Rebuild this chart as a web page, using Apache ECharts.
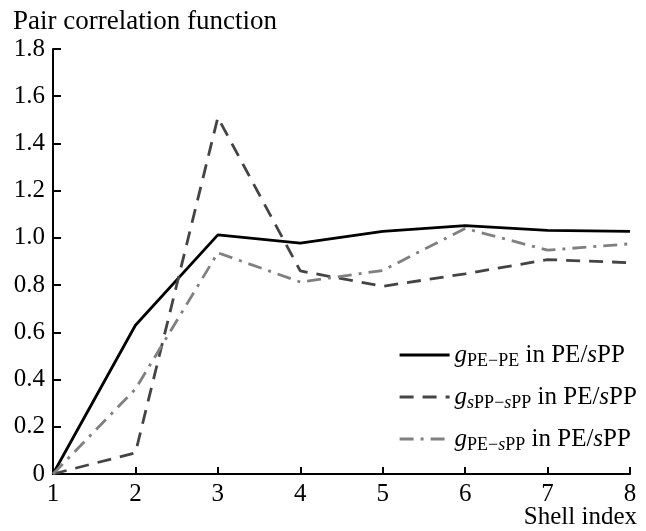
<!DOCTYPE html>
<html>
<head>
<meta charset="utf-8">
<script src="https://cdn.jsdelivr.net/npm/echarts@6/dist/echarts.min.js"></script>
<style>
html,body{margin:0;padding:0;background:#fff;}
#chart{width:646px;height:531px;}
</style>
</head>
<body>
<div id="chart"></div>
<script>
var shellIndex = [1, 2, 3, 4, 5, 6, 7, 8];
var gPEPE   = [0, 0.63, 1.013, 0.978, 1.028, 1.052, 1.032, 1.028];
var gSPPSPP = [0, 0.09, 1.51, 0.86, 0.795, 0.848, 0.908, 0.895];
var gPESPP  = [0, 0.36, 0.937, 0.813, 0.862, 1.04, 0.948, 0.975];
var yTicks = [0, 0.2, 0.4, 0.6, 0.8, 1.0, 1.2, 1.4, 1.6, 1.8];

var FONT = 'Liberation Serif';

function pairs(ys) { return shellIndex.map(function (x, i) { return [x, ys[i]]; }); }

var chart = echarts.init(document.getElementById('chart'), null, {renderer: 'canvas'});

var rich = {
  g: {fontFamily: FONT, fontStyle: 'italic', fontSize: 25, color: '#000', lineHeight: 30},
  sub: {fontFamily: FONT, fontSize: 18, color: '#000', lineHeight: 30, padding: [12, 0, 0, 0]},
  subi: {fontFamily: FONT, fontSize: 18, fontStyle: 'italic', color: '#000', lineHeight: 30, padding: [12, 0, 0, 0]},
  t: {fontFamily: FONT, fontSize: 25, color: '#000', lineHeight: 30},
  ti: {fontFamily: FONT, fontSize: 25, fontStyle: 'italic', color: '#000', lineHeight: 30}
};

var legendText = {
  'PE-PE': '{g|g}{sub|PE−PE}{t| in PE/}{ti|s}{t|PP}',
  'sPP-sPP': '{g|g}{subi|s}{sub|PP−}{subi|s}{sub|PP}{t| in PE/}{ti|s}{t|PP}',
  'PE-sPP': '{g|g}{sub|PE−}{subi|s}{sub|PP}{t| in PE/}{ti|s}{t|PP}'
};

var seriesNames = ['PE-PE', 'sPP-sPP', 'PE-sPP'];
var legendTops = [335, 377, 419];

chart.setOption({
  animation: false,
  backgroundColor: '#fff',
  grid: {left: 53, right: 16, top: 49, bottom: 57, containLabel: false},
  xAxis: {
    type: 'value', min: 1, max: 8, interval: 1,
    axisLine: {show: true, onZero: false, lineStyle: {color: '#000', width: 2}},
    axisTick: {show: true, inside: true, length: 7, lineStyle: {color: '#000', width: 2}},
    splitLine: {show: false},
    axisLabel: {color: '#000', fontFamily: FONT, fontSize: 25, margin: 8}
  },
  yAxis: {
    type: 'value', min: 0, max: 1.8, interval: 0.2,
    axisLine: {show: true, onZero: false, lineStyle: {color: '#000', width: 2}},
    axisTick: {show: true, inside: true, length: 8, lineStyle: {color: '#000', width: 2}},
    splitLine: {show: false},
    axisLabel: {
      color: '#000', fontFamily: FONT, fontSize: 25, margin: 8,
      formatter: function (v) { return v === 0 ? '0' : v.toFixed(1); }
    }
  },
  legend: seriesNames.map(function (n, i) {
    return {
      left: 393, top: legendTops[i],
      itemWidth: 50, itemHeight: 14,
      data: [n],
      itemStyle: {color: 'rgba(0,0,0,0)', borderColor: 'rgba(0,0,0,0)', borderWidth: 0},
      lineStyle: {width: 3.2},
      formatter: function (name) { return legendText[name]; },
      textStyle: {rich: rich, fontFamily: FONT, fontSize: 25, color: '#000'}
    };
  }),
  series: [
    {
      name: 'PE-PE', type: 'line', data: pairs(gPEPE), symbol: 'none',
      lineStyle: {color: '#000', width: 2.8, type: 'solid'},
      itemStyle: {color: '#000'}
    },
    {
      name: 'sPP-sPP', type: 'line', data: pairs(gSPPSPP), symbol: 'none',
      lineStyle: {color: '#444', width: 2.8, type: [14, 9]},
      itemStyle: {color: '#444'}
    },
    {
      name: 'PE-sPP', type: 'line', data: pairs(gPESPP), symbol: 'none',
      lineStyle: {color: '#808080', width: 2.8, type: [14, 7, 3, 7]},
      itemStyle: {color: '#808080'}
    }
  ],
  graphic: [
    {type: 'text', left: 13, top: 8, style: {text: 'Pair correlation function', fontFamily: FONT, fontSize: 27, fill: '#000'}},
    {type: 'text', right: 9, top: 505, style: {text: 'Shell index', fontFamily: FONT, fontSize: 25, fill: '#000'}}
  ]
});
</script>
</body>
</html>
